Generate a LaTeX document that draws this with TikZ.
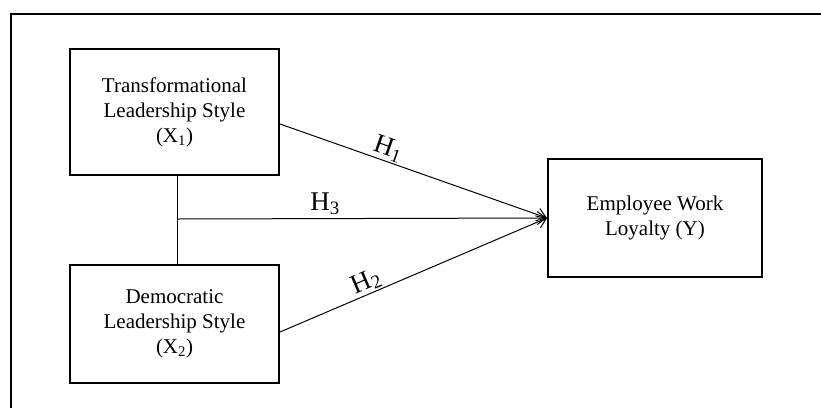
\documentclass[tikz,border=0pt]{standalone}
\usepackage{fontspec}
\setmainfont{Liberation Serif}
\usetikzlibrary{arrows.meta}
\begin{document}
\begin{tikzpicture}[x=1pt,y=-1pt,
  box/.style={draw,line width=2pt,align=center,inner sep=0pt,
    font=\fontsize{21}{25}\selectfont},
  conn/.style={line width=1pt},
  arr/.style={line width=1pt,-{Straight Barb[length=9pt,width=13pt]}},
  hlab/.style={font=\fontsize{27}{30}\selectfont,inner sep=1pt}]
\useasboundingbox (0,0) rectangle (821,408);
\draw[line width=2pt] (11,408) -- (11,14) -- (821,14);
\node[box,minimum width=209pt,minimum height=126pt] (b1) at (174.5,112)
  {Transformational\\Leadership Style\\(X\textsubscript{1})};
\node[box,minimum width=209pt,minimum height=118pt] (b2) at (174.5,324)
  {Democratic\\Leadership Style\\(X\textsubscript{2})};
\node[box,minimum width=214pt,minimum height=118pt] (y) at (655,218)
  {Employee Work\\Loyalty (Y)};
\coordinate (j) at (177,219);
\draw[conn] ([xshift=2.5pt]b1.south) -- ([xshift=2.5pt]b2.north);
\draw[arr] (j) -- node[pos=0.4,above,hlab,yshift=2pt] {H\textsubscript{3}} (y.west);
\draw[arr] ([yshift=-12pt]b1.east) -- node[pos=0.39,above,sloped,hlab] {H\textsubscript{1}} (y.west);
\draw[arr] ([yshift=-8pt]b2.east) -- node[pos=0.34,above,sloped,hlab] {H\textsubscript{2}} (y.west);
\end{tikzpicture}
\end{document}
